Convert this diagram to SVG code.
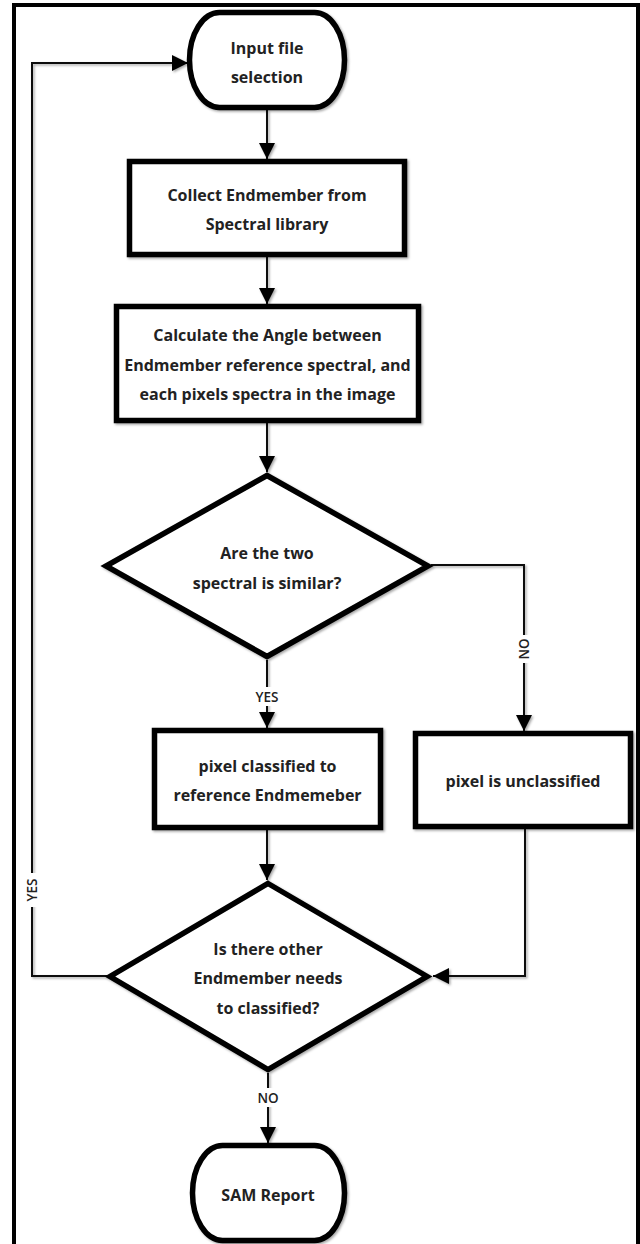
<svg xmlns="http://www.w3.org/2000/svg" width="640" height="1244" viewBox="0 0 640 1244">
<style>
.shape{fill:#fff;stroke:#000;stroke-width:5.5;stroke-linejoin:miter}
.conn{fill:none;stroke:#111;stroke-width:2}
.t{font-family:"Open Sans","Liberation Sans",sans-serif;font-weight:700;font-size:16px;fill:#222;text-anchor:middle}
.lbl{font-family:"Open Sans","Liberation Sans",sans-serif;font-weight:600;font-size:13.5px;fill:#222;text-anchor:middle}
.bg{fill:#fff}
</style>
<defs>
<filter id="sh" x="-10%" y="-10%" width="120%" height="120%">
<feDropShadow dx="1.5" dy="1.5" stdDeviation="1" flood-color="#000" flood-opacity="0.35"/>
</filter>
<marker id="arr" markerUnits="userSpaceOnUse" viewBox="0 0 16 16" markerWidth="16" markerHeight="16" refX="16" refY="8" orient="auto">
<path d="M0,0 L16,8 L0,16 z" fill="#000"/>
</marker>
</defs>
<rect x="14" y="5" width="624" height="1250" fill="#fff" stroke="#000" stroke-width="4"/>

<g id="connectors">
<g filter="url(#sh)">
<path class="conn" d="M267,110 V159" marker-end="url(#arr)"/>
<path class="conn" d="M267,257 V304" marker-end="url(#arr)"/>
<path class="conn" d="M267,423 V472" marker-end="url(#arr)"/>
<path class="conn" d="M267,660 V728" marker-end="url(#arr)"/>
<path class="conn" d="M431,565 H524 V731" marker-end="url(#arr)"/>
<path class="conn" d="M267,830 V880" marker-end="url(#arr)"/>
<path class="conn" d="M525,829 V976 H433" marker-end="url(#arr)"/>
<path class="conn" d="M107,976 H32 V63 H188" marker-end="url(#arr)"/>
<path class="conn" d="M268,1073 V1143" marker-end="url(#arr)"/>
</g>
<rect class="bg" x="252" y="687" width="30" height="19"/>
<text class="lbl" x="267" y="702">YES</text>
<rect class="bg" x="515" y="635" width="18" height="28"/>
<text class="lbl" transform="translate(529,649) rotate(-90)" x="0" y="0">NO</text>
<rect class="bg" x="23" y="873" width="18" height="34"/>
<text class="lbl" transform="translate(37,890) rotate(-90)" x="0" y="0">YES</text>
<rect class="bg" x="255" y="1088" width="26" height="19"/>
<text class="lbl" x="268" y="1103">NO</text>
</g>

<g id="start">
<rect class="shape" filter="url(#sh)" x="189.5" y="12.5" width="155" height="95" rx="30" ry="47.5"/>
<text class="t" x="267" y="54">Input file</text>
<text class="t" x="267" y="83">selection</text>
</g>

<g id="collect">
<rect class="shape" filter="url(#sh)" x="129.5" y="161.5" width="275" height="93"/>
<text class="t" x="267" y="201">Collect Endmember from</text>
<text class="t" x="267" y="230">Spectral library</text>
</g>

<g id="calculate">
<rect class="shape" filter="url(#sh)" x="116.5" y="306.5" width="302" height="114"/>
<text class="t" x="267.5" y="341">Calculate the Angle between</text>
<text class="t" x="267.5" y="371">Endmember reference spectral, and</text>
<text class="t" x="267.5" y="400">each pixels spectra in the image</text>
</g>

<g id="similar">
<polygon class="shape" filter="url(#sh)" points="267,475.5 428,566 267,656.5 106,566"/>
<text class="t" x="267" y="559">Are the two</text>
<text class="t" x="267" y="589">spectral is similar?</text>
</g>

<g id="classified">
<rect class="shape" filter="url(#sh)" x="154.5" y="730.5" width="226" height="97"/>
<text class="t" x="267.5" y="772">pixel classified to</text>
<text class="t" x="267.5" y="801">reference Endmemeber</text>
</g>

<g id="unclassified">
<rect class="shape" filter="url(#sh)" x="415.5" y="733.5" width="215" height="93"/>
<text class="t" x="523" y="787">pixel is unclassified</text>
</g>

<g id="other">
<polygon class="shape" filter="url(#sh)" points="268,883.5 427,976.5 268,1069.5 110,976.5"/>
<text class="t" x="268" y="955">Is there other</text>
<text class="t" x="268" y="984">Endmember needs</text>
<text class="t" x="268" y="1014">to classified?</text>
</g>

<g id="report">
<rect class="shape" filter="url(#sh)" x="192.5" y="1145.5" width="152" height="95" rx="30" ry="47.5"/>
<text class="t" x="268" y="1201">SAM Report</text>
</g>
</svg>
